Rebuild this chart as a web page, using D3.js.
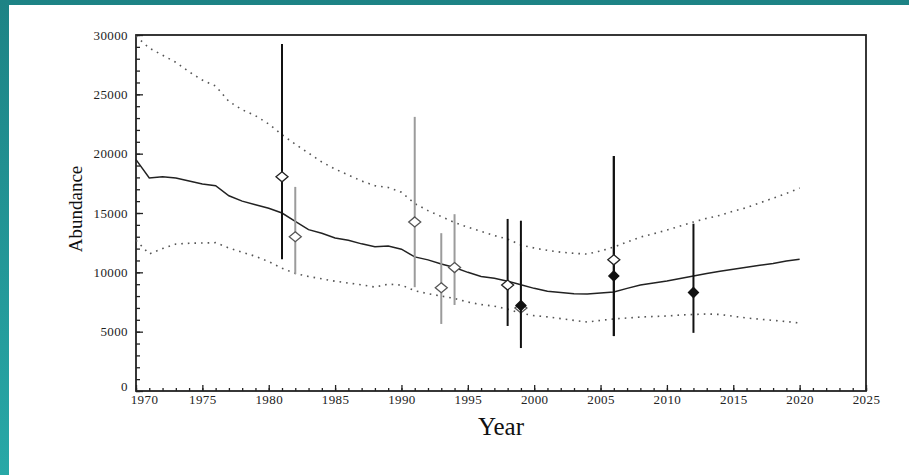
<!DOCTYPE html>
<html>
<head>
<meta charset="utf-8">
<script src="https://cdn.jsdelivr.net/npm/d3@7"></script>
<style>
	body { margin: 0; background: #fff; }
	svg { display: block; }
</style>
</head>
<body>
<div id="chart"></div>
<script>

// model trajectory (solid) and its band (dotted)
const years = d3.range(1970, 2021);
const meanValues = [19500, 17950, 18050, 17950, 17700, 17450, 17300, 16450, 16000, 15700,
	15400, 15000, 14300, 13600, 13300, 12900, 12700, 12400, 12150, 12220,
	11950, 11300, 11050, 10700, 10400, 10000, 9650, 9500, 9250, 8950,
	8650, 8400, 8300, 8200, 8170, 8250, 8350, 8650, 8930, 9100,
	9270, 9480, 9690, 9900, 10100, 10250, 10420, 10600, 10750, 10950, 11100];
const upperValues = [29900, 28900, 28300, 27700, 26900, 26200, 25700, 24400, 23700, 23200,
	22500, 21600, 20800, 20050, 19300, 18700, 18200, 17700, 17300, 17150,
	16750, 15800, 15200, 14700, 14200, 13800, 13450, 13100, 12800, 12300,
	12050, 11850, 11700, 11600, 11540, 11800, 12130, 12550, 12970, 13250,
	13560, 13900, 14240, 14550, 14800, 15150, 15450, 15850, 16250, 16650, 17100];
const lowerValues = [12700, 11550, 12000, 12380, 12450, 12470, 12500, 12050, 11700, 11350,
	10900, 10350, 9900, 9650, 9450, 9250, 9100, 8950, 8760, 9000,
	8930, 8450, 8200, 8000, 7800, 7500, 7280, 7150, 6900, 6550,
	6350, 6250, 6100, 5950, 5810, 5950, 6070, 6150, 6230, 6280,
	6320, 6400, 6450, 6490, 6450, 6300, 6150, 6050, 5950, 5850, 5730];

// survey estimates: [year, value, low, high]
const openBlack = [[1981, 18050, 11100, 29250], [1998, 8930, 5480, 14500], [2006, 11050, 4630, 19800]];
const openGray = [[1982, 13000, 9850, 17200], [1991, 14250, 8750, 23100], [1993, 8700, 5650, 13300],
	[1994, 10400, 7250, 14900], [1999, 7000, 4300, 11700]];
const filled = [[1999, 7200, 3620, 14350], [2006, 9700, 4630, 19800], [2012, 8300, 4900, 14100]];

const xTicks = d3.range(1970, 2026, 5);
const yTicks = d3.range(0, 30001, 5000);

const W = 909, H = 475;
const margin = {top: 35, left: 136, right: 43, bottom: 84};
const width = W - margin.left - margin.right;
const height = H - margin.top - margin.bottom;

const svg = d3.select('#chart').append('svg')
	.attr('width', W)
	.attr('height', H);

// teal slide border
const grad = svg.append('defs').append('linearGradient')
	.attr('id', 'teal')
	.attr('x1', 0).attr('y1', 0).attr('x2', 0).attr('y2', 1);
grad.append('stop').attr('offset', '0%').attr('stop-color', '#1d8385');
grad.append('stop').attr('offset', '100%').attr('stop-color', '#28a8a7');

svg.append('rect').attr('width', W).attr('height', H).attr('fill', 'url(#teal)');
svg.append('rect').attr('x', 9).attr('y', 5).attr('width', W - 9).attr('height', H - 5).attr('fill', '#fff');

const g = svg.append('g')
	.attr('transform', `translate(${margin.left},${margin.top})`);

const x = d3.scaleLinear().domain([1970, 2025]).range([0, width]);
const y = d3.scaleLinear().domain([0, 30000]).range([height, 0]);

const font = '"Liberation Serif", "Times New Roman", serif';

//--------------------------------------------------------------
// axes (ticks point inward)
//--------------------------------------------------------------
g.append('g')
	.attr('transform', `translate(0,${height})`)
	.call(d3.axisBottom(x).tickValues(d3.range(1970, 2026, 1)).tickSize(-3).tickFormat(''))
	.call(a => a.select('.domain').remove());

const xAxis = g.append('g')
	.attr('transform', `translate(0,${height})`)
	.call(d3.axisBottom(x).tickValues(xTicks).tickSize(-6).tickPadding(4).tickFormat(d3.format('d')));
xAxis.select('.domain').remove();
xAxis.selectAll('text').filter(d => d === 1970).attr('dx', 8);

g.append('g')
	.call(d3.axisLeft(y).tickValues(d3.range(0, 30001, 1000)).tickSize(-4).tickFormat(''))
	.call(a => a.select('.domain').remove());

const yAxis = g.append('g')
	.call(d3.axisLeft(y).tickValues(yTicks).tickSize(-7).tickPadding(8).tickFormat(d => d));
yAxis.select('.domain').remove();
yAxis.selectAll('text').filter(d => d === 0).attr('dy', '-0.05em');

g.selectAll('.tick line').attr('stroke', '#222').attr('stroke-width', 1.3);
g.selectAll('.tick text')
	.style('font-family', font)
	.style('font-size', '13px')
	.style('letter-spacing', '0.4px')
	.attr('fill', '#222');

g.append('rect')
	.attr('width', width)
	.attr('height', height)
	.attr('fill', 'none')
	.attr('stroke', '#222')
	.attr('stroke-width', 1.8);

//--------------------------------------------------------------
// trajectory lines
//--------------------------------------------------------------
const line = d3.line().x((d, i) => x(years[i])).y(d => y(d));

g.append('path').datum(upperValues)
	.attr('d', line)
	.attr('fill', 'none')
	.attr('stroke', '#555')
	.attr('stroke-width', 1.6)
	.attr('stroke-dasharray', '1.6,5');

g.append('path').datum(lowerValues)
	.attr('d', line)
	.attr('fill', 'none')
	.attr('stroke', '#555')
	.attr('stroke-width', 1.6)
	.attr('stroke-dasharray', '1.6,5');

g.append('path').datum(meanValues)
	.attr('d', line)
	.attr('fill', 'none')
	.attr('stroke', '#222')
	.attr('stroke-width', 1.5);

//--------------------------------------------------------------
// survey points with error bars
//--------------------------------------------------------------
const diamond = (w, h) => `M0,${-h/2}L${w/2},0L0,${h/2}L${-w/2},0Z`;

function bars(data, color){
	g.append('g').selectAll('line')
	.data(data)
	.enter().append('line')
	.attr('x1', d => x(d[0]))
	.attr('x2', d => x(d[0]))
	.attr('y1', d => y(d[2]))
	.attr('y2', d => y(d[3]))
	.attr('stroke', color)
	.attr('stroke-width', 2);
}

function points(data, fill, stroke){
	g.append('g').selectAll('path')
	.data(data)
	.enter().append('path')
	.attr('transform', d => `translate(${x(d[0])},${y(d[1])})`)
	.attr('d', fill === 'none' ? diamond(12, 10) : diamond(10, 10))
	.attr('fill', fill === 'none' ? '#fff' : fill)
	.attr('stroke', stroke)
	.attr('stroke-width', 1.3);
}

bars(openGray, '#9b9b9b');
points(openGray, 'none', '#555');
bars(openBlack, '#111');
bars(filled, '#111');
points(openBlack, 'none', '#222');
points(filled, '#111', '#111');

//--------------------------------------------------------------
// axis titles
//--------------------------------------------------------------
svg.append('text')
	.attr('x', margin.left + width / 2)
	.attr('y', 435)
	.style('text-anchor', 'middle')
	.style('font-family', font)
	.style('font-size', '25px')
	.attr('fill', '#111')
	.text('Year');

svg.append('text')
	.attr('transform', 'translate(82,209) rotate(-90)')
	.style('text-anchor', 'middle')
	.style('font-family', font)
	.style('font-size', '19px')
	.attr('fill', '#111')
	.text('Abundance');

</script>
</body>
</html>
